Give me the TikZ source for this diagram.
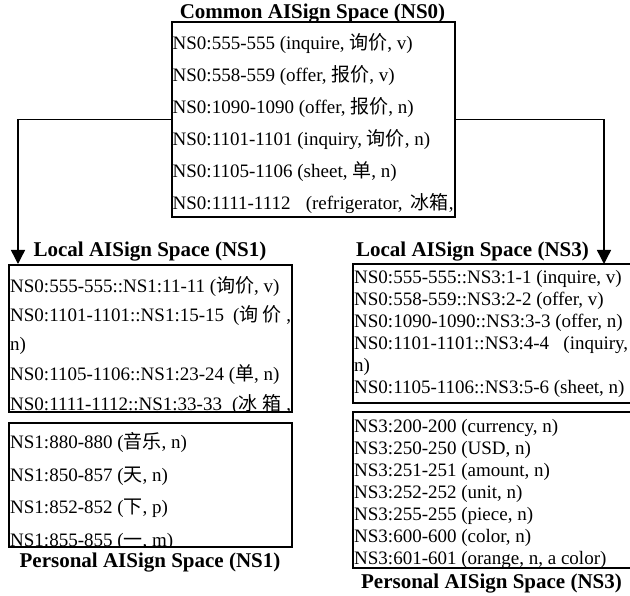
\documentclass[tikz,border=0pt]{standalone}
\usepackage{fontspec}
\setmainfont{Liberation Serif}
\newfontfamily\cjk{Noto Sans CJK SC}
\newcommand{\zh}[1]{{\cjk #1}}
\usetikzlibrary{arrows.meta}
\tikzset{
  box/.style={draw, line width=1.4pt, rectangle, inner sep=0pt},
  row/.style={anchor=base west, inner sep=0pt, font=\fontsize{19}{22}\selectfont},
  ttl/.style={anchor=base, inner sep=0pt, font=\bfseries\fontsize{21}{24}\selectfont},
  conn/.style={line width=1.4pt, -{Triangle[width=14pt,length=14pt]}}
}
\begin{document}
\begin{tikzpicture}[x=1pt,y=-1pt]
\useasboundingbox (0,0) rectangle (630,596);
% boxes
\node[box, minimum width=283pt, minimum height=195pt] (ns0) at (313.5,119.5) {};
\node[box, minimum width=283pt, minimum height=147pt] (l1) at (150.5,338.5) {};
\node[box, minimum width=283pt, minimum height=124pt] (p1) at (150.5,485) {};
\node[box, minimum width=290pt, minimum height=139pt] (l3) at (498,333.5) {};
\node[box, minimum width=290pt, minimum height=156pt] (p3) at (498,490) {};
% titles
\node[ttl] (t0) at (312.5,18.5) {Common AISign Space (NS0)};
\node[ttl] (tl1) at (150,257) {Local AISign Space (NS1)};
\node[ttl] (tp1) at (150,567) {Personal AISign Space (NS1)};
\node[ttl] (tl3) at (472.5,257) {Local AISign Space (NS3)};
\node[ttl] (tp3) at (491.5,588) {Personal AISign Space (NS3)};
% NS0 rows
\begin{scope}
\clip (ns0.south west) rectangle (ns0.north east);
\node[row] (a1) at (172.5,50) {NS0:555-555 (inquire, \zh{询价}, v)};
\node[row] (a2) at (172.5,82) {NS0:558-559 (offer, \zh{报价}, v)};
\node[row] (a3) at (172.5,114) {NS0:1090-1090 (offer, \zh{报价}, n)};
\node[row] (a4) at (172.5,146) {NS0:1101-1101 (inquiry, \zh{询价}, n)};
\node[row] (a5) at (172.5,178) {NS0:1105-1106 (sheet, \zh{单}, n)};
\node[row] (a6) at (172.5,210) {\makebox[281pt][s]{NS0:1111-1112\ \ (refrigerator, \zh{冰箱},}};
\end{scope}
% Local NS1 rows
\begin{scope}
\clip (l1.south west) rectangle (l1.north east);
\node[row] (b1) at (10,293) {NS0:555-555::NS1:11-11 (\zh{询价}, v)};
\node[row] (b2) at (10,322) {\makebox[281pt][s]{NS0:1101-1101::NS1:15-15 \ (\zh{询} \zh{价} ,}};
\node[row] (b3) at (10,351) {n)};
\node[row] (b4) at (10,381) {NS0:1105-1106::NS1:23-24 (\zh{单}, n)};
\node[row] (b5) at (10,410) {\makebox[281pt][s]{NS0:1111-1112::NS1:33-33 \ (\zh{冰} \zh{箱} ,}};
\end{scope}
% Personal NS1 rows
\begin{scope}
\clip (p1.south west) rectangle (p1.north east);
\node[row] (c1) at (10,449) {NS1:880-880 (\zh{音乐}, n)};
\node[row] (c2) at (10,481) {NS1:850-857 (\zh{天}, n)};
\node[row] (c3) at (10,513) {NS1:852-852 (\zh{下}, p)};
\node[row] (c4) at (10,546) {NS1:855-855 (\zh{一}, m)};
\end{scope}
% Local NS3 rows
\begin{scope}
\clip (l3.south west) rectangle (l3.north east);
\node[row] (d1) at (354,284) {NS0:555-555::NS3:1-1 (inquire, v)};
\node[row] (d2) at (354,306) {NS0:558-559::NS3:2-2 (offer, v)};
\node[row] (d3) at (354,328) {NS0:1090-1090::NS3:3-3 (offer, n)};
\node[row] (d4) at (354,350) {\makebox[274pt][s]{NS0:1101-1101::NS3:4-4 \ (inquiry,}};
\node[row] (d5) at (354,372) {n)};
\node[row] (d6) at (354,394) {NS0:1105-1106::NS3:5-6 (sheet, n)};
\end{scope}
% Personal NS3 rows
\begin{scope}
\clip (p3.south west) rectangle (p3.north east);
\node[row] (e1) at (354,432) {NS3:200-200 (currency, n)};
\node[row] (e2) at (354,454) {NS3:250-250 (USD, n)};
\node[row] (e3) at (354,476) {NS3:251-251 (amount, n)};
\node[row] (e4) at (354,498) {NS3:252-252 (unit, n)};
\node[row] (e5) at (354,520) {NS3:255-255 (piece, n)};
\node[row] (e6) at (354,542) {NS3:600-600 (color, n)};
\node[row] (e7) at (354,564) {NS3:601-601 (orange, n, a color)};
\end{scope}
% connectors
\coordinate (tipL) at (18,264);
\coordinate (tipR) at (604,264);
\draw[conn] (ns0.west) -| (tipL);
\draw[conn] (ns0.east) -| (tipR);
\end{tikzpicture}
\end{document}
